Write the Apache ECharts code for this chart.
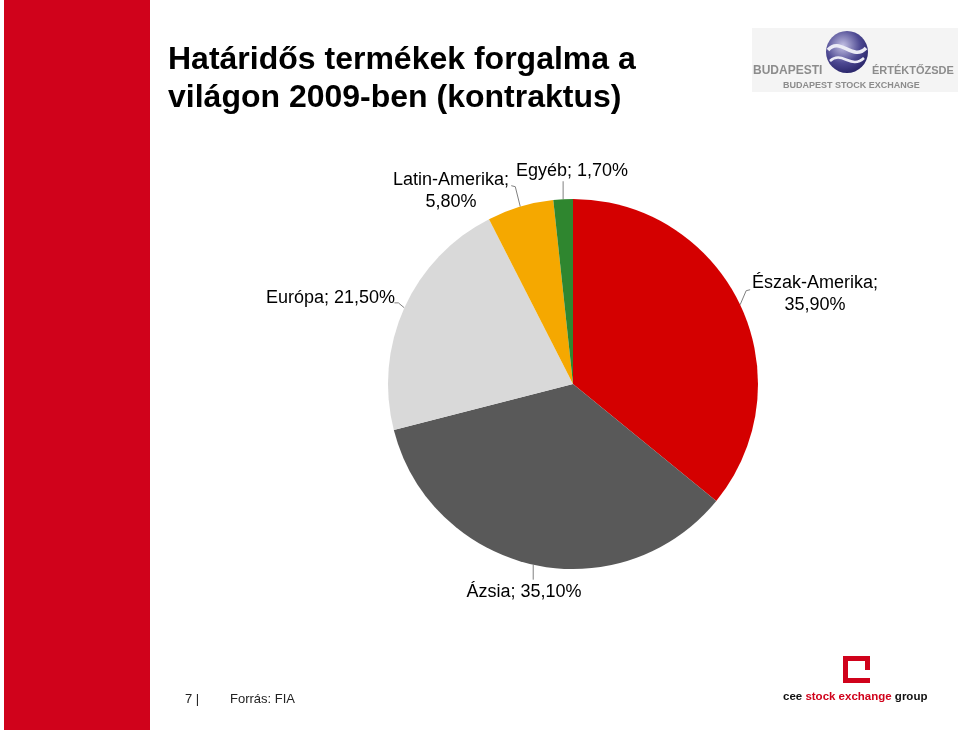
<!DOCTYPE html>
<html>
<head>
<meta charset="utf-8">
<script src="https://cdn.jsdelivr.net/npm/echarts@6/dist/echarts.min.js"></script>
<style>html,body{margin:0;padding:0;background:#fff}#c{width:960px;height:730px}</style>
</head>
<body>
<div id="c"></div>
<script>
const categories = ['Észak-Amerika', 'Ázsia', 'Európa', 'Latin-Amerika', 'Egyéb'];
const values = [35.9, 35.1, 21.5, 5.8, 1.7];
const valueLabels = ['35,90%', '35,10%', '21,50%', '5,80%', '1,70%'];
const colors = ['#d40000', '#595959', '#d9d9d9', '#f5a800', '#2f862f'];

// label placement (pixel positions of the label text anchors)
const labelPlaces = [
  { x: 815, y: 294, align: 'center', multi: true, line: [[6, -14], [10, -15]] },
  { x: 524, y: 592, align: 'center', multi: false, line: [[0, 15], [0, 15]] },
  { x: 395, y: 298, align: 'right', multi: false, line: [[-6, -5], [-10, -5]] },
  { x: 451, y: 191, align: 'center', multi: true, line: [[-5, -20], [-9, -21]] },
  { x: 572, y: 171, align: 'center', multi: false, line: [[0, -18], [0, -18]] }
];

const chart = echarts.init(document.getElementById('c'), null, { renderer: 'canvas' });
const FONT = '"Liberation Sans", Arial, sans-serif';

chart.setOption({
  animation: false,
  backgroundColor: '#ffffff',
  graphic: [
    { type: 'rect', shape: { x: 4, y: 0, width: 146, height: 730 }, style: { fill: '#d0021b' } },
    { type: 'text', left: 168, top: 41, style: { text: 'Határidős termékek forgalma a\nvilágon 2009-ben (kontraktus)', fill: '#000', font: 'bold 32px ' + FONT, lineHeight: 38 } },
    // BSE logo
    { type: 'rect', shape: { x: 752, y: 28, width: 206, height: 64 }, style: { fill: '#f4f4f4' } },
    { type: 'circle', shape: { cx: 847, cy: 52, r: 21 }, style: { fill: new echarts.graphic.RadialGradient(0.4, 0.35, 0.75, [{ offset: 0, color: '#c4c1e4' }, { offset: 0.55, color: '#4d4992' }, { offset: 1, color: '#1f1b5e' }]) } },
    { type: 'bezierCurve', shape: { x1: 828, y1: 50, x2: 866, y2: 48, cpx1: 840, cpy1: 36, cpx2: 853, cpy2: 62 }, style: { stroke: '#ececf6', lineWidth: 3.5, fill: null } },
    { type: 'bezierCurve', shape: { x1: 830, y1: 61, x2: 864, y2: 58, cpx1: 842, cpy1: 50, cpx2: 851, cpy2: 70 }, style: { stroke: '#ececf6', lineWidth: 2.5, fill: null } },
    { type: 'text', x: 753, y: 65, style: { text: 'BUDAPESTI', fill: '#8c8c8c', font: 'bold 12px ' + FONT } },
    { type: 'text', x: 872, y: 65, style: { text: 'ÉRTÉKTŐZSDE', fill: '#8c8c8c', font: 'bold 11px ' + FONT } },
    { type: 'text', x: 783, y: 81, style: { text: 'BUDAPEST STOCK EXCHANGE', fill: '#8c8c8c', font: 'bold 9px ' + FONT } },
    // CEE logo
    { type: 'rect', shape: { x: 843, y: 656, width: 27, height: 5 }, style: { fill: '#d0021b' } },
    { type: 'rect', shape: { x: 843, y: 656, width: 5, height: 27 }, style: { fill: '#d0021b' } },
    { type: 'rect', shape: { x: 843, y: 678, width: 27, height: 5 }, style: { fill: '#d0021b' } },
    { type: 'rect', shape: { x: 865, y: 656, width: 5, height: 14 }, style: { fill: '#d0021b' } },
    { type: 'text', x: 783, y: 691, style: { text: '{b|cee }{r|stock exchange}{b| group}', rich: { b: { fill: '#111', font: 'bold 11.5px ' + FONT }, r: { fill: '#d0021b', font: 'bold 11.5px ' + FONT } } } },
    // footer
    { type: 'text', x: 185, y: 693, style: { text: '7 |', fill: '#222', font: '13px ' + FONT } },
    { type: 'text', x: 230, y: 693, style: { text: 'Forrás: FIA', fill: '#222', font: '13px ' + FONT } }
  ],
  series: [{
    type: 'pie',
    center: [573, 384],
    radius: [0, 185],
    startAngle: 90,
    clockwise: true,
    avoidLabelOverlap: false,
    silent: true,
    itemStyle: { borderWidth: 0 },
    data: categories.map((c, i) => ({ name: c, value: values[i], itemStyle: { color: colors[i] } })),
    label: {
      show: true,
      color: '#000',
      fontFamily: FONT,
      fontSize: 18,
      lineHeight: 22,
      formatter: p => labelPlaces[p.dataIndex].multi ? p.name + ';\n' + valueLabels[p.dataIndex] : p.name + '; ' + valueLabels[p.dataIndex]
    },
    labelLine: { show: true, lineStyle: { color: '#808080', width: 1 }, length: 10, length2: 10 },
    labelLayout: function (params) {
      const pl = labelPlaces[params.dataIndex];
      const p0 = params.labelLinePoints[0];
      return {
        x: pl.x, y: pl.y, align: pl.align, verticalAlign: 'middle',
        labelLinePoints: [p0, [p0[0] + pl.line[0][0], p0[1] + pl.line[0][1]], [p0[0] + pl.line[1][0], p0[1] + pl.line[1][1]]]
      };
    }
  }]
});
</script>
</body>
</html>
